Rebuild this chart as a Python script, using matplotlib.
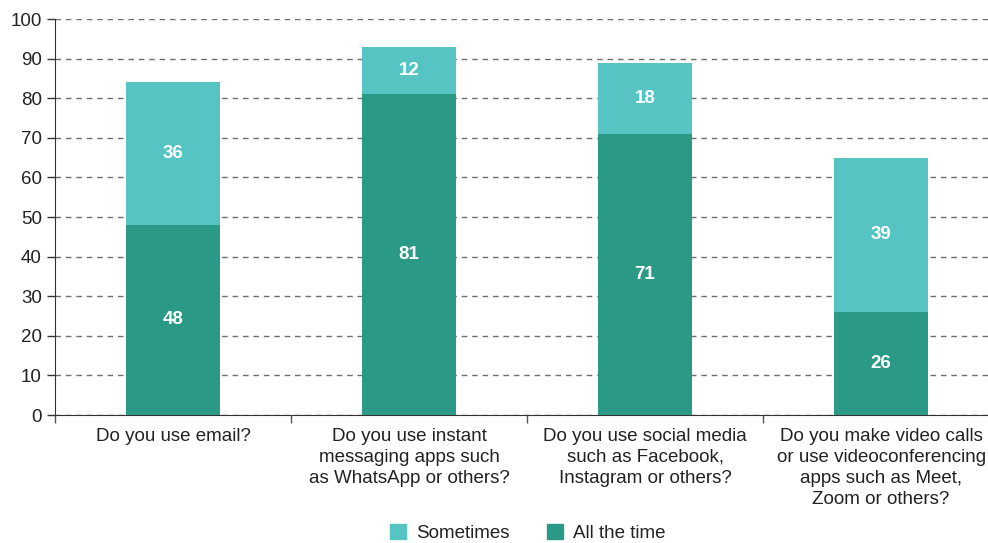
import numpy as np
import matplotlib
matplotlib.use("Agg")
from matplotlib import pyplot as plt
from matplotlib.patches import Patch

categories = ["Do you use email?",
              "Do you use instant\nmessaging apps such\nas WhatsApp or others?",
              "Do you use social media\nsuch as Facebook,\nInstagram or others?",
              "Do you make video calls\nor use videoconferencing\napps such as Meet,\nZoom or others?"]
all_the_time = [48, 81, 71, 26]
sometimes = [36, 12, 18, 39]

dark = "#2a9a86"
light = "#55c4c3"

plt.rcParams["font.family"] = ["Liberation Sans", "DejaVu Sans"]

fig = plt.figure(figsize=(9.88, 5.43), dpi=100)
ax = fig.add_axes([0.0557, 0.2357, 0.9443, 0.7293])

x = np.arange(len(categories))
w = 0.395
ax.bar(x, all_the_time, w, color=dark, zorder=3)
ax.bar(x, sometimes, w, bottom=all_the_time, color=light, zorder=3)

for i in range(len(x)):
    ax.text(x[i], all_the_time[i] / 2, str(all_the_time[i]), ha="center", va="center",
            color="white", fontsize=13.5, fontweight="bold", zorder=4)
    ax.text(x[i], all_the_time[i] + sometimes[i] / 2, str(sometimes[i]), ha="center",
            va="center", color="white", fontsize=13.5, fontweight="bold", zorder=4)

ax.set_ylim(0, 100)
ax.set_xlim(-0.5, 3.453)
ax.set_yticks(range(0, 101, 10))
ax.yaxis.grid(True, linestyle=(0, (4, 3.5)), color="#6e6e6e", linewidth=1, zorder=0)
ax.tick_params(axis="y", labelsize=13.5, length=6, width=1, color="#333333", labelcolor="#222222")

ax.set_xticks(x)
ax.set_xticklabels(categories, fontsize=13.5, color="#222222", linespacing=1.33)
ax.tick_params(axis="x", length=0, pad=9)
ax.set_xticks(np.arange(-0.5, 3.5, 1), minor=True)
ax.tick_params(axis="x", which="minor", length=6, width=1, color="#555555")

for s in ["top", "right"]:
    ax.spines[s].set_visible(False)
ax.spines["left"].set_color("#333333")
ax.spines["bottom"].set_color("#333333")

handles = [Patch(color=light, label="Sometimes"), Patch(color=dark, label="All the time")]
fig.legend(handles=handles, loc="lower center", bbox_to_anchor=(0.534, -0.03), ncol=2,
           frameon=False, fontsize=13.5, handlelength=0.85, handleheight=0.85,
           columnspacing=2.0, handletextpad=0.55, labelcolor="#222222")

fig.savefig("out.png", dpi=100)
